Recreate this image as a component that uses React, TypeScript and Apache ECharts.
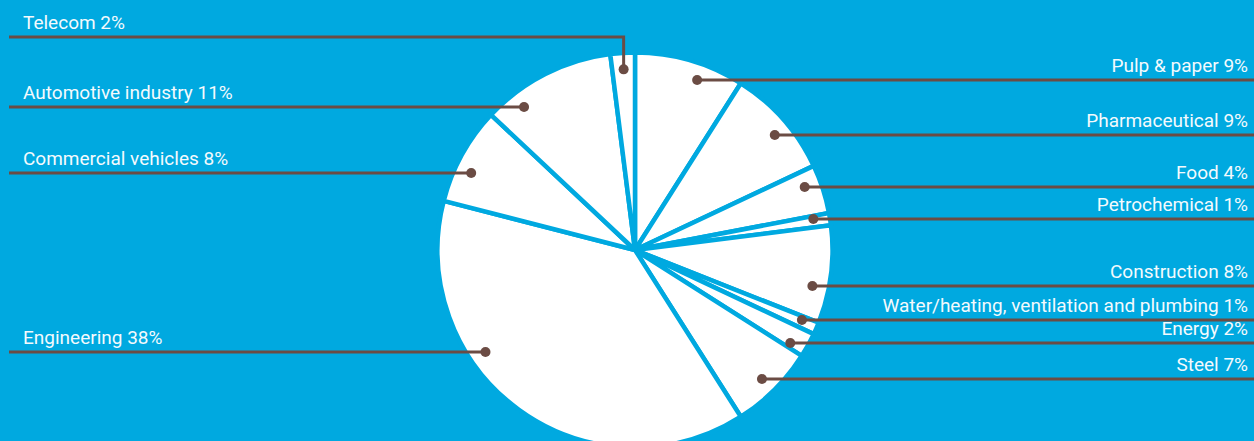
import React, { useEffect, useRef } from "react";
import * as echarts from "echarts";

// ---- data ----
const categories: string[] = [
  "Pulp & paper",
  "Pharmaceutical",
  "Food",
  "Petrochemical",
  "Construction",
  "Water/heating, ventilation and plumbing",
  "Energy",
  "Steel",
  "Engineering",
  "Commercial vehicles",
  "Automotive industry",
  "Telecom",
];
const shares: number[] = [9, 9, 4, 1, 8, 1, 2, 7, 38, 8, 11, 2];

// ---- layout (vertical position of each leader line, px) ----
const leaderY: number[] = [80, 135, 187, 219, 286, 320, 343, 379, 352, 173, 107, 37];

const W = 1254;
const H = 441;
const CX = 635;
const CY = 250;
const R = 197.5;
const DOT_R = 181;
const BG = "#00A9E0";
const BROWN = "#6B4C44";
const TEXT = "#F4FAFD";

function geometry(i: number) {
  const total = shares.reduce((a, b) => a + b, 0);
  let acc = 0;
  for (let j = 0; j < i; j++) acc += shares[j];
  const a0 = (acc / total) * 360;
  const a1 = ((acc + shares[i]) / total) * 360;
  const mid = (a0 + a1) / 2;
  const right = mid < 180;
  const y = leaderY[i];
  const dy = y - CY;
  let dot: number[] | null = null;
  if (Math.abs(dy) < DOT_R) {
    const dx = Math.sqrt(DOT_R * DOT_R - dy * dy) * (right ? 1 : -1);
    let ang = (Math.atan2(dx, -dy) * 180) / Math.PI;
    if (ang < 0) ang += 360;
    if (ang >= a0 && ang <= a1) dot = [CX + dx, y];
  }
  if (!dot) {
    const rad = (mid * Math.PI) / 180;
    dot = [CX + DOT_R * Math.sin(rad), CY - DOT_R * Math.cos(rad)];
  }
  const edgeX = right ? W : 9;
  const points = [
    [dot[0], dot[1]],
    [dot[0], y],
    [edgeX, y],
  ];
  return { dot, points, right, y };
}

export default function App() {
  const ref = useRef<HTMLDivElement>(null);
  useEffect(() => {
    if (!ref.current) return;
    const chart = echarts.init(ref.current, null, { renderer: "svg" });
    const data = categories.map((name, i) => ({ name, value: shares[i] }));
    const base = {
      type: "pie",
      center: [CX, CY],
      radius: R,
      startAngle: 90,
      clockwise: true,
      avoidLabelOverlap: false,
      silent: true,
      data,
    };
    chart.setOption({
      animation: false,
      backgroundColor: BG,
      series: [
        {
          ...base,
          z: 2,
          itemStyle: { color: "#ffffff", borderColor: BG, borderWidth: 4.5 },
          label: { show: false },
          labelLine: { show: false },
        },
        {
          ...base,
          z: 3,
          itemStyle: { color: "rgba(0,0,0,0)", borderWidth: 0 },
          label: {
            show: true,
            position: "outside",
            formatter: (p: any) => `${p.name} ${p.value}%`,
            color: TEXT,
            fontFamily: "Roboto",
            fontSize: 19,
          },
          labelLine: {
            show: true,
            showAbove: true,
            length: 5,
            length2: 5,
            lineStyle: { color: BROWN, width: 3 },
          },
          labelLayout: (p: any) => {
            const g = geometry(p.dataIndex);
            return {
              x: g.right ? 1248 : 23,
              y: g.y - 5,
              align: g.right ? "right" : "left",
              verticalAlign: "bottom",
              labelLinePoints: g.points,
            };
          },
        },
        {
          ...base,
          z: 4,
          itemStyle: { color: "rgba(0,0,0,0)", borderWidth: 0 },
          label: {
            show: true,
            position: "inside",
            formatter: " ",
            backgroundColor: BROWN,
            width: 10,
            height: 10,
            borderRadius: 5,
            padding: 0,
            fontSize: 1,
            lineHeight: 10,
          },
          labelLine: { show: false },
          labelLayout: (p: any) => {
            const g = geometry(p.dataIndex);
            return { x: g.dot[0], y: g.dot[1], align: "center", verticalAlign: "middle" };
          },
        },
      ],
    });
    return () => chart.dispose();
  }, []);
  return (
    <div
      ref={ref}
      style={{ position: "fixed", left: 0, top: 0, width: W, height: H, background: BG }}
    />
  );
}
